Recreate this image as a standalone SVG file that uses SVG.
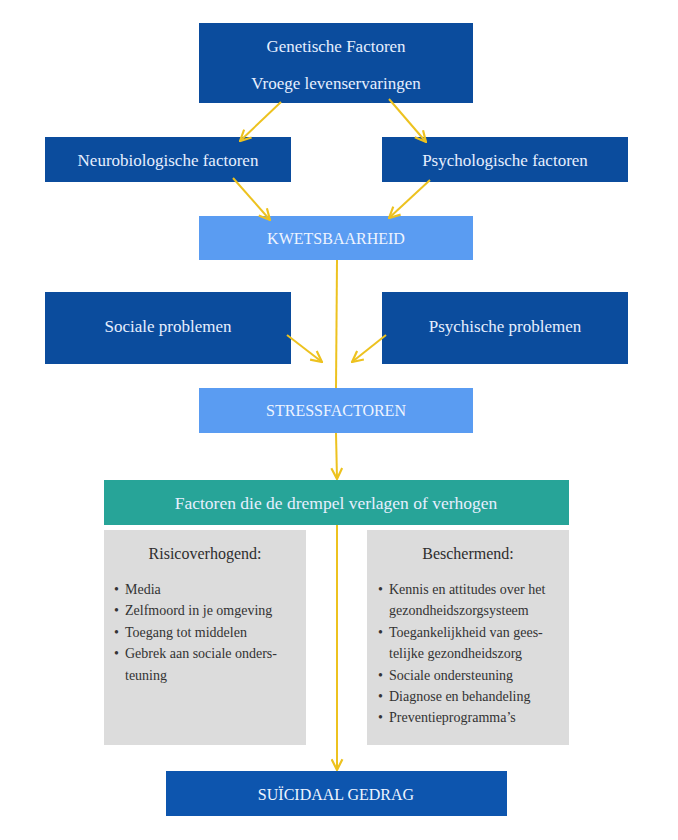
<svg xmlns="http://www.w3.org/2000/svg" width="678" height="840" viewBox="0 0 678 840">
<style>
.dark{fill:#0b4c9d}
.light{fill:#5a9cf2}
.teal{fill:#27a498}
.grey{fill:#dcdcdc}
.t{font-family:"Liberation Serif","DejaVu Serif",serif;font-size:17px;fill:#e6efff;text-anchor:middle}
.tl{font-family:"Liberation Serif","DejaVu Serif",serif;font-size:16px;fill:#eef4ff;text-anchor:middle}
.h{font-family:"Liberation Serif","DejaVu Serif",serif;font-size:16px;fill:#2e2e2e;text-anchor:middle}
.b{font-family:"Liberation Serif","DejaVu Serif",serif;font-size:14px;fill:#333}
.c{stroke:#edc21f;stroke-width:2;fill:none}
</style>
<defs>
<marker id="ah" viewBox="0 0 12 12" refX="11" refY="6" markerWidth="13" markerHeight="13" markerUnits="userSpaceOnUse" orient="auto">
<path d="M1,1 L11,6 L1,11" fill="none" stroke="#edc21f" stroke-width="2"/>
</marker>
</defs>
<rect width="678" height="840" fill="#ffffff"/>
<g id="genetisch">
<rect class="dark" x="199" y="23" width="274" height="80"/>
<text class="t" x="336" y="52">Genetische Factoren</text>
<text class="t" x="336" y="89">Vroege levenservaringen</text>
</g>
<g id="neuro">
<rect class="dark" x="45" y="137" width="246" height="45"/>
<text class="t" x="168" y="166">Neurobiologische factoren</text>
</g>
<g id="psycho">
<rect class="dark" x="382" y="137" width="246" height="45"/>
<text class="t" x="505" y="166">Psychologische factoren</text>
</g>
<g id="kwetsbaarheid">
<rect class="light" x="199" y="216" width="274" height="44"/>
<text class="tl" x="336" y="244">KWETSBAARHEID</text>
</g>
<g id="sociale">
<rect class="dark" x="45" y="292" width="246" height="72"/>
<text class="t" x="168" y="332">Sociale problemen</text>
</g>
<g id="psychische">
<rect class="dark" x="382" y="292" width="246" height="72"/>
<text class="t" x="505" y="332">Psychische problemen</text>
</g>
<g id="stressfactoren">
<rect class="light" x="199" y="388" width="274" height="45"/>
<text class="tl" x="336" y="416">STRESSFACTOREN</text>
</g>
<g id="drempel">
<rect class="teal" x="104" y="480" width="465" height="45"/>
<text class="t" x="336" y="509" style="font-size:17.5px">Factoren die de drempel verlagen of verhogen</text>
</g>
<g id="risico">
<rect class="grey" x="104" y="530" width="202" height="215"/>
<text class="h" x="205" y="559">Risicoverhogend:</text>
<g class="b">
<text x="114" y="594">•</text><text x="125" y="594">Media</text>
<text x="114" y="615">•</text><text x="125" y="615">Zelfmoord in je omgeving</text>
<text x="114" y="637">•</text><text x="125" y="637">Toegang tot middelen</text>
<text x="114" y="658">•</text><text x="125" y="658">Gebrek aan sociale onders-</text>
<text x="125" y="680">teuning</text>
</g>
</g>
<g id="beschermend">
<rect class="grey" x="367" y="530" width="202" height="215"/>
<text class="h" x="468" y="559">Beschermend:</text>
<g class="b">
<text x="378" y="594">•</text><text x="389" y="594">Kennis en attitudes over het</text>
<text x="389" y="615">gezondheidszorgsysteem</text>
<text x="378" y="637">•</text><text x="389" y="637">Toegankelijkheid van gees-</text>
<text x="389" y="658">telijke gezondheidszorg</text>
<text x="378" y="680">•</text><text x="389" y="680">Sociale ondersteuning</text>
<text x="378" y="701">•</text><text x="389" y="701">Diagnose en behandeling</text>
<text x="378" y="722">•</text><text x="389" y="722">Preventieprogramma’s</text>
</g>
</g>
<g id="suicidaal">
<rect fill="#0d55ae" x="166" y="771" width="341" height="45"/>
<text class="tl" x="336" y="800">SUÏCIDAAL GEDRAG</text>
</g>
<g id="connectors">
<line class="c" x1="281" y1="102" x2="240" y2="141" marker-end="url(#ah)"/>
<line class="c" x1="389" y1="99" x2="426" y2="142" marker-end="url(#ah)"/>
<line class="c" x1="233" y1="178" x2="270" y2="220" marker-end="url(#ah)"/>
<line class="c" x1="430" y1="180" x2="389" y2="218" marker-end="url(#ah)"/>
<line class="c" x1="337" y1="260" x2="336" y2="388"/>
<line class="c" x1="287" y1="335" x2="322" y2="362" marker-end="url(#ah)"/>
<line class="c" x1="386" y1="335" x2="352" y2="362" marker-end="url(#ah)"/>
<line class="c" x1="336" y1="433" x2="337" y2="479" marker-end="url(#ah)"/>
<line class="c" x1="337" y1="525" x2="337" y2="770" marker-end="url(#ah)"/>
</g>
</svg>
